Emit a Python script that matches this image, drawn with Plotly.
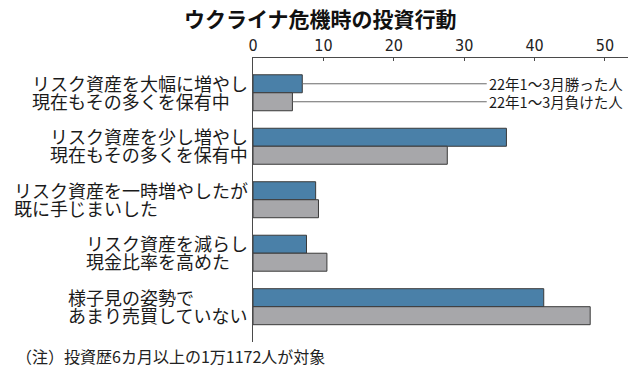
import plotly.graph_objects as go

categories = [
    "リスク資産を大幅に増やし\n現在もその多くを保有中",
    "リスク資産を少し増やし\n現在もその多くを保有中",
    "リスク資産を一時増やしたが\n既に手じまいした",
    "リスク資産を減らし\n現金比率を高めた",
    "様子見の姿勢で\nあまり売買していない",
]
winners = [7.0, 36.0, 8.9, 7.6, 41.3]
losers = [5.6, 27.6, 9.3, 10.5, 47.9]
series_names = ["22年1～3月勝った人", "22年1～3月負けた人"]
x_ticks = [0, 10, 20, 30, 40, 50]
title_text = "ウクライナ危機時の投資行動"
note_text = "（注）投資歴6カ月以上の1万1172人が対象"

W, H = 638, 372
ML, MR, MT, MB = 253, 10, 58, 30
PW = W - ML - MR
PH = H - MT - MB
XMAX = 53.27
BARGAP = 0.327
CJK = "Noto Sans CJK JP, Noto Sans, sans-serif"
NUM = "Liberation Sans Narrow, DejaVu Sans Condensed, sans-serif"

BLUE = "#4a80a8"
GRAY = "#a7a7aa"
EDGE = "#3a3a3a"


def px_x(px):
    return (px - ML) / PW


def px_y(py):
    return 1 - (py - MT) / PH


ypos = list(range(len(categories)))

fig = go.Figure()
fig.add_trace(go.Bar(y=ypos, x=winners, orientation="h", name=series_names[0],
                     marker=dict(color=BLUE, line=dict(color=EDGE, width=1))))
fig.add_trace(go.Bar(y=ypos, x=losers, orientation="h", name=series_names[1],
                     marker=dict(color=GRAY, line=dict(color=EDGE, width=1))))

annotations = []
shapes = []

# category labels: lines left-aligned within a right-aligned block
FS = 18
RIGHT_PX = 246
for i, cat in enumerate(categories):
    lines = cat.split("\n")
    block_w = max(len(l) for l in lines) * FS
    left_px = RIGHT_PX - block_w
    shifts = [10, -8]
    for j, line in enumerate(lines):
        annotations.append(dict(
            x=px_x(left_px), xref="paper", y=ypos[i], yref="y", yshift=shifts[j],
            text=line, showarrow=False, xanchor="left", yanchor="middle",
            font=dict(family=CJK, size=FS, color="#1a1a1a"),
        ))

# leader lines for legend on first category
half = (1 - BARGAP) / 4
LEAD_END = 33.2
for k, (vals, name) in enumerate([(winners, series_names[0]), (losers, series_names[1])]):
    yc = ypos[0] + (-half if k == 0 else half)
    shapes.append(dict(type="line", xref="x", yref="y", x0=vals[0], x1=LEAD_END,
                       y0=yc, y1=yc, line=dict(color="#6a6a6a", width=1)))
    annotations.append(dict(
        x=LEAD_END, xref="x", y=yc, yref="y", text=name, showarrow=False,
        xanchor="left", yanchor="middle",
        font=dict(family=CJK, size=14.5, color="#1a1a1a"),
    ))

# title
annotations.append(dict(x=px_x(320), xref="paper", y=px_y(18), yref="paper",
                        text="<b>" + title_text + "</b>", showarrow=False,
                        xanchor="center", yanchor="middle",
                        font=dict(family=CJK, size=21, color="#111")))
# note
annotations.append(dict(x=px_x(14), xref="paper", y=px_y(356), yref="paper",
                        text=note_text, showarrow=False,
                        xanchor="left", yanchor="middle",
                        font=dict(family=CJK, size=16, color="#222")))

fig.update_layout(
    width=W, height=H,
    margin=dict(l=ML, r=MR, t=MT, b=MB, autoexpand=False),
    paper_bgcolor="white", plot_bgcolor="white",
    barmode="group", bargap=BARGAP, bargroupgap=0,
    showlegend=False,
    annotations=annotations, shapes=shapes,
    xaxis=dict(side="top", range=[0, XMAX], tickvals=x_ticks,
               ticktext=[str(t) for t in x_ticks], automargin=False,
               showgrid=False, zeroline=False,
               showline=True, linecolor="#4a4a4a", linewidth=1,
               ticks="inside", ticklen=3, tickcolor="#4a4a4a",
               tickfont=dict(family=NUM, size=16, color="#222")),
    yaxis=dict(range=[4.66, -0.65], showticklabels=False, showgrid=False,
               automargin=False,
               zeroline=False, showline=True, linecolor="#4a4a4a", linewidth=1,
               ticks=""),
)

fig.write_html(
    "out.html",
    config={"displayModeBar": False},
    post_script="document.body.style.margin='0';document.body.style.padding='0';",
)
